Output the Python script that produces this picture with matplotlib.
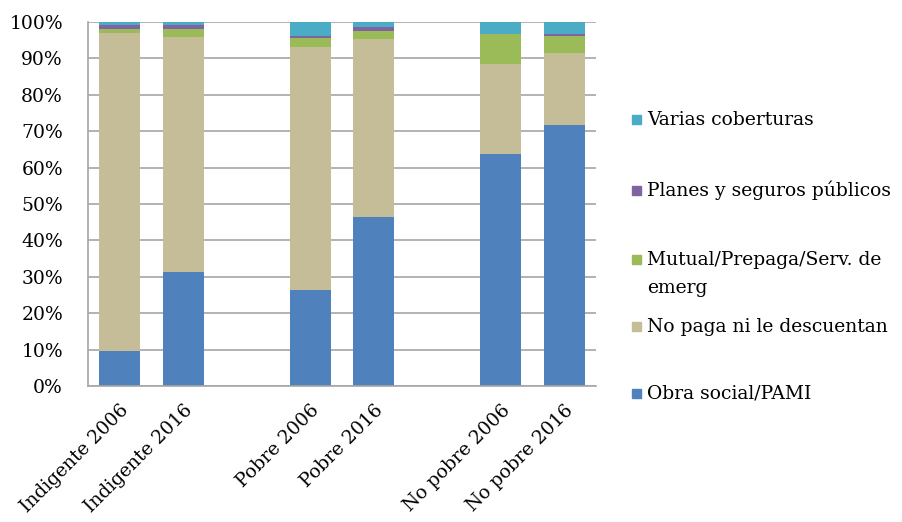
import numpy as np
import matplotlib
matplotlib.use("Agg")
import matplotlib.pyplot as plt
from matplotlib.patches import Rectangle
from matplotlib.ticker import PercentFormatter

# ---- DATA ----
categories = ["Indigente 2006", "Indigente 2016",
              "Pobre 2006", "Pobre 2016",
              "No pobre 2006", "No pobre 2016"]
obra_social = [9.5, 31.3, 26.3, 46.4, 63.7, 71.7]
no_paga = [87.5, 64.7, 66.9, 48.8, 24.7, 19.7]
mutual = [1.2, 2.0, 2.4, 2.2, 8.3, 4.8]
planes = [1.0, 1.2, 0.5, 1.3, 0.1, 0.5]
varias = [0.8, 0.8, 3.9, 1.3, 3.2, 3.3]

series_names = ["Obra social/PAMI", "No paga ni le descuentan",
                "Mutual/Prepaga/Serv. de\nemerg", "Planes y seguros públicos",
                "Varias coberturas"]
series_vals = [obra_social, no_paga, mutual, planes, varias]
colors = ["#4F81BD", "#C4BD97", "#9BBB59", "#8064A2", "#4BACC6"]

plt.rcParams["font.family"] = ["DejaVu Serif"]
FS = 13.5
GRID = "#A6A6A6"
W, H = 903, 522

fig = plt.figure(figsize=(W / 100, H / 100), dpi=100)
ax = fig.add_axes([88 / W, 1 - 386 / H, 508 / W, 364 / H])

# two bars per group, one empty slot between groups
x = np.array([(i // 2) * 3 + i % 2 for i in range(len(categories))])
bottom = np.zeros(len(categories))
for name, vals, color in zip(series_names, series_vals, colors):
    ax.bar(x, vals, width=0.65, bottom=bottom, color=color, label=name, zorder=2)
    bottom += np.array(vals)

ax.set_xlim(-0.5, 7.5)
ax.set_ylim(0, 100)
ax.set_yticks(np.arange(0, 101, 10))
ax.yaxis.set_major_formatter(PercentFormatter(decimals=0))
ax.grid(axis="y", color=GRID, linewidth=1.2, zorder=0)
ax.set_axisbelow(True)
for s in ["top", "right"]:
    ax.spines[s].set_visible(False)
for s in ["left", "bottom"]:
    ax.spines[s].set_color(GRID)
    ax.spines[s].set_linewidth(1.2)
ax.tick_params(axis="y", length=0, labelsize=FS, pad=18)
ax.tick_params(axis="x", length=0, labelsize=FS, pad=11)
ax.set_xticks(x)
ax.set_xticklabels(categories, rotation=45, ha="right", rotation_mode="anchor")

# legend, top entry first, drawn by hand so the marker sits on the first line
baselines = [125, 196, 265, 332, 399]
for name, color, yb in zip(series_names[::-1], colors[::-1], baselines):
    fig.patches.append(Rectangle((632 / W, 1 - (yb - 1) / H), 9 / W, 9 / H,
                                 transform=fig.transFigure, color=color))
    for k, line in enumerate(name.split("\n")):
        fig.text(647 / W, 1 - (yb + 28 * k) / H, line, fontsize=FS,
                 va="baseline", transform=fig.transFigure)

fig.savefig("out.png", dpi=100)
